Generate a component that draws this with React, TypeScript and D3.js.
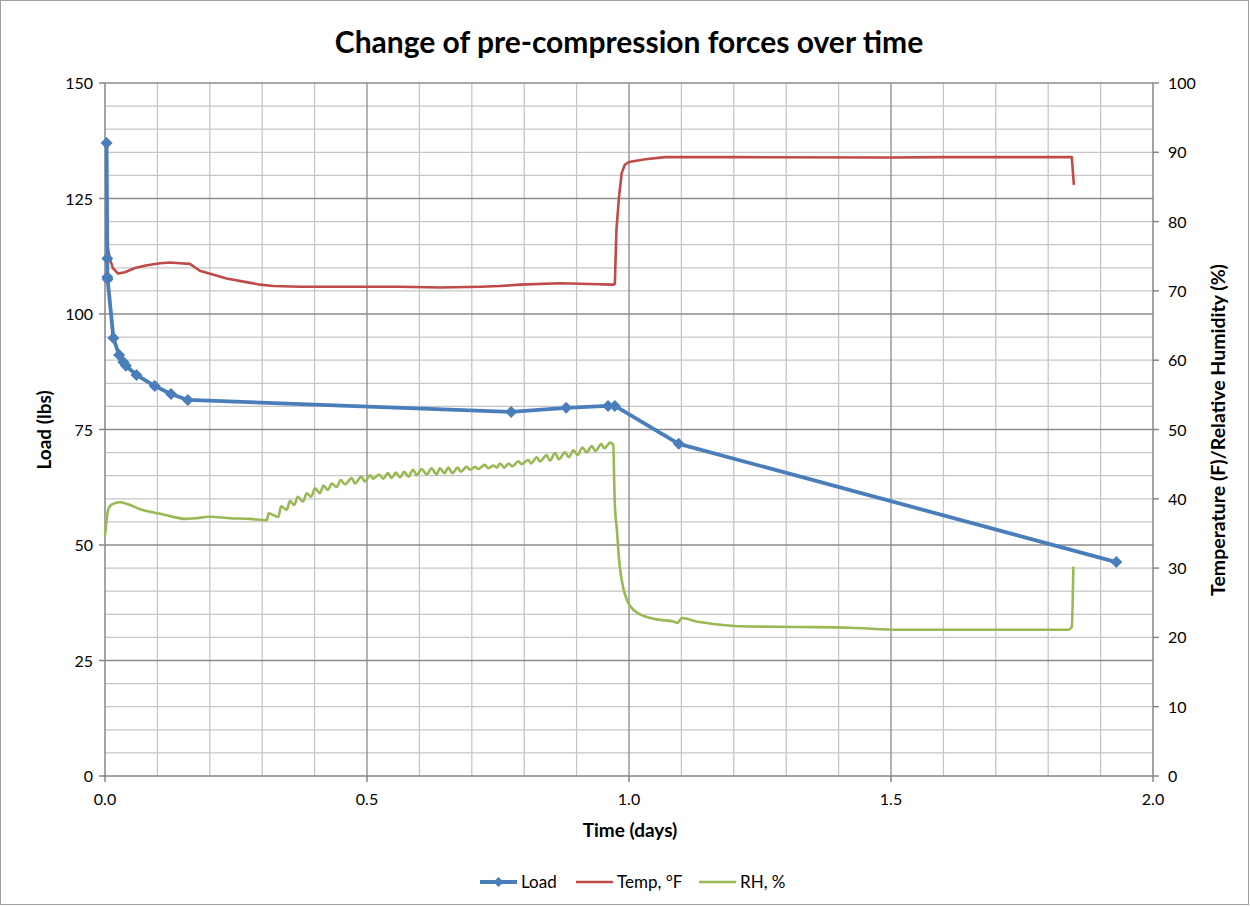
import React from "react";
import * as d3 from "d3";

const title = "Change of pre-compression forces over time";
const xTicks = [0, 0.5, 1.0, 1.5, 2.0];
const leftTicks = [0, 25, 50, 75, 100, 125, 150];
const rightTicks = [0, 10, 20, 30, 40, 50, 60, 70, 80, 90, 100];

const loadT = [0.003, 0.0044, 0.0044, 0.005, 0.016, 0.027, 0.035, 0.04, 0.06, 0.095, 0.126, 0.158, 0.775, 0.88, 0.96, 0.973, 1.095, 1.93];
const loadV = [137, 112, 108, 107.5, 94.8, 91.1, 89.6, 88.8, 86.8, 84.4, 82.7, 81.4, 78.8, 79.7, 80.1, 80.1, 71.9, 46.3];

const tempT = [0.003, 0.006, 0.01, 0.015, 0.025, 0.038, 0.057, 0.08, 0.105, 0.124, 0.143, 0.162, 0.181, 0.204, 0.232, 0.267, 0.296, 0.321, 0.372, 0.45, 0.563, 0.64, 0.716, 0.754, 0.792, 0.868, 0.926, 0.969, 0.973, 0.976, 0.981, 0.986, 0.992, 1.0, 1.031, 1.069, 1.2, 1.5, 1.6, 1.845, 1.849];
const tempV = [77.8, 75.9, 74.5, 73.3, 72.5, 72.7, 73.3, 73.7, 74.0, 74.1, 74.0, 73.9, 72.9, 72.4, 71.8, 71.3, 70.9, 70.7, 70.6, 70.6, 70.6, 70.5, 70.6, 70.7, 70.9, 71.1, 71.0, 70.9, 71.0, 78.8, 83.6, 87.0, 88.2, 88.6, 89.0, 89.3, 89.3, 89.25, 89.3, 89.3, 85.3];

const rhT = [0, 0.002, 0.006, 0.013, 0.029, 0.048, 0.067, 0.095, 0.124, 0.153, 0.172, 0.2, 0.239, 0.277, 0.309,
  0.312, 0.331, 0.336, 0.347, 0.353, 0.361, 0.368, 0.378, 0.385, 0.393, 0.401, 0.41, 0.417, 0.425, 0.433, 0.442, 0.45, 0.458, 0.471, 0.477, 0.489, 0.496, 0.506, 0.512, 0.523, 0.531, 0.54, 0.547, 0.555, 0.563, 0.571, 0.579, 0.588, 0.595, 0.604, 0.614, 0.623, 0.633, 0.639, 0.648, 0.655, 0.663, 0.673, 0.679, 0.69, 0.697, 0.706, 0.712, 0.725, 0.731, 0.741, 0.748, 0.754, 0.762, 0.77, 0.777, 0.789, 0.795, 0.808, 0.813, 0.824, 0.83, 0.843, 0.849, 0.859, 0.866, 0.878, 0.885, 0.894, 0.902, 0.911, 0.919, 0.929, 0.936, 0.947, 0.953, 0.964, 0.97,
  0.972, 0.973, 0.977, 0.98, 0.986, 0.996, 1.015, 1.053, 1.085, 1.092, 1.101, 1.129, 1.18, 1.212, 1.326, 1.422, 1.517, 1.708, 1.838, 1.845, 1.848];
const rhV = [34.7, 36.2, 38.4, 39.2, 39.5, 39.1, 38.5, 38.0, 37.5, 37.1, 37.2, 37.4, 37.2, 37.1, 36.9,
  37.9, 37.4, 38.9, 38.4, 39.7, 39.1, 40.3, 39.6, 40.8, 40.3, 41.5, 40.8, 41.9, 41.3, 42.2, 41.7, 42.7, 42.1, 43.0, 42.2, 43.2, 42.5, 43.4, 42.9, 43.5, 42.9, 43.7, 43.0, 43.8, 43.1, 43.9, 43.2, 44.2, 43.4, 44.3, 43.5, 44.4, 43.5, 44.4, 43.7, 44.5, 43.7, 44.5, 43.9, 44.6, 44.2, 44.6, 44.3, 44.9, 44.4, 44.8, 44.5, 45.1, 44.5, 45.1, 44.7, 45.4, 45.0, 45.6, 45.1, 46.0, 45.4, 46.3, 45.5, 46.6, 45.7, 46.7, 46.0, 47.0, 46.3, 47.4, 46.7, 47.6, 46.9, 47.9, 47.3, 48.1, 47.8,
  41.7, 39.1, 35.5, 32.1, 28.3, 25.4, 23.6, 22.6, 22.3, 22.1, 22.8, 22.3, 21.8, 21.6, 21.5, 21.4, 21.1, 21.1, 21.1, 21.5, 30.2];

const FONT = "Lato, 'Open Sans', sans-serif";
const LOAD_C = "#4a7ebb";
const TEMP_C = "#be4b48";
const RH_C = "#98b954";

export default function App() {
  const W = 1250, H = 907;
  const x = d3.scaleLinear().domain([0, 2]).range([105, 1153]);
  const yL = d3.scaleLinear().domain([0, 150]).range([776, 83]);
  const yR = d3.scaleLinear().domain([0, 100]).range([776, 83]);

  const loadData = loadT.map((t, i) => [t, loadV[i]] as [number, number]);
  const tempData = tempT.map((t, i) => [t, tempV[i]] as [number, number]);
  const rhData = rhT.map((t, i) => [t, rhV[i]] as [number, number]);

  const lineL = d3.line<[number, number]>().x(d => x(d[0])).y(d => yL(d[1]));
  const lineR = d3.line<[number, number]>().x(d => x(d[0])).y(d => yR(d[1])).curve(d3.curveMonotoneX);
  const lineT = d3.line<[number, number]>().x(d => x(d[0])).y(d => yR(d[1]));

  const minorX = d3.range(1, 20).map(i => i / 10).filter(v => Math.abs(v * 2 - Math.round(v * 2)) > 1e-6);
  const majorX = [0.5, 1.0, 1.5];
  const minorY = d3.range(5, 150, 5).filter(v => v % 25 !== 0);
  const majorY = [25, 50, 75, 100, 125, 150];

  const diamond = (cx: number, cy: number, r: number) => `M${cx},${cy - r}L${cx + r},${cy}L${cx},${cy + r}L${cx - r},${cy}Z`;

  return (
    <svg width={W} height={H} style={{ position: "absolute", left: 0, top: 0, background: "#fff" }} fontFamily={FONT}>
      <rect x={0.5} y={0.5} width={W - 2} height={H - 3} fill="#fff" stroke="#a0a0a0" />
      <text x={629} y={53} textAnchor="middle" fontSize={30} fontWeight="bold" fill="#000">{title}</text>
      {/* grid */}
      {minorX.map(v => <line key={"mx" + v} x1={x(v)} x2={x(v)} y1={83} y2={776} stroke="#c6c6c6" strokeWidth={1.3} />)}
      {minorY.map(v => <line key={"my" + v} x1={105} x2={1153} y1={yL(v)} y2={yL(v)} stroke="#c6c6c6" strokeWidth={1.3} />)}
      {majorX.map(v => <line key={"Mx" + v} x1={x(v)} x2={x(v)} y1={83} y2={776} stroke="#8c8c8c" strokeWidth={1.3} />)}
      {majorY.map(v => <line key={"My" + v} x1={105} x2={1153} y1={yL(v)} y2={yL(v)} stroke="#8c8c8c" strokeWidth={1.3} />)}
      {/* axes */}
      <line x1={105} x2={105} y1={83} y2={776} stroke="#868686" strokeWidth={1.5} />
      <line x1={1153} x2={1153} y1={83} y2={776} stroke="#868686" strokeWidth={1.5} />
      <line x1={105} x2={1153} y1={776} y2={776} stroke="#868686" strokeWidth={1.5} />
      {leftTicks.map(v => (
        <g key={"lt" + v}>
          <line x1={99} x2={105} y1={yL(v)} y2={yL(v)} stroke="#868686" strokeWidth={1.5} />
          <text x={93} y={yL(v) + 6} textAnchor="end" fontSize={16} fill="#000">{v}</text>
        </g>
      ))}
      {rightTicks.map(v => (
        <g key={"rt" + v}>
          <line x1={1153} x2={1159} y1={yR(v)} y2={yR(v)} stroke="#868686" strokeWidth={1.5} />
          <text x={1168} y={yR(v) + 6} textAnchor="start" fontSize={16} fill="#000">{v}</text>
        </g>
      ))}
      {xTicks.map(v => (
        <g key={"xt" + v}>
          <line x1={x(v)} x2={x(v)} y1={776} y2={782} stroke="#868686" strokeWidth={1.5} />
          <text x={x(v)} y={805} textAnchor="middle" fontSize={16} fill="#000">{v.toFixed(1)}</text>
        </g>
      ))}
      <text x={630} y={837} textAnchor="middle" fontSize={19} fontWeight="bold" fill="#000">Time (days)</text>
      <text transform="translate(51,430) rotate(-90)" textAnchor="middle" fontSize={19} fontWeight="bold" fill="#000">Load (lbs)</text>
      <text transform="translate(1225,430) rotate(-90)" textAnchor="middle" fontSize={19.5} fontWeight="bold" fill="#000">Temperature (F)/Relative Humidity (%)</text>
      {/* series */}
      <path d={lineR(rhData) || ""} fill="none" stroke={RH_C} strokeWidth={2.6} strokeLinejoin="round" />
      <path d={lineT(tempData) || ""} fill="none" stroke={TEMP_C} strokeWidth={2.6} strokeLinejoin="round" />
      <path d={lineL(loadData) || ""} fill="none" stroke={LOAD_C} strokeWidth={3.8} strokeLinejoin="round" />
      {loadData.map((d, i) => <path key={"m" + i} d={diamond(x(d[0]), yL(d[1]), 6)} fill={LOAD_C} />)}
      {/* legend */}
      <line x1={480} x2={517} y1={882} y2={882} stroke={LOAD_C} strokeWidth={3.8} />
      <path d={diamond(498.5, 882, 5)} fill={LOAD_C} />
      <text x={521} y={888} fontSize={17} fill="#000">Load</text>
      <line x1={576} x2={613} y1={882} y2={882} stroke={TEMP_C} strokeWidth={2.6} />
      <text x={617} y={888} fontSize={17} fill="#000">Temp, °F</text>
      <line x1={699} x2={736} y1={882} y2={882} stroke={RH_C} strokeWidth={2.6} />
      <text x={740} y={888} fontSize={17} fill="#000">RH, %</text>
    </svg>
  );
}
